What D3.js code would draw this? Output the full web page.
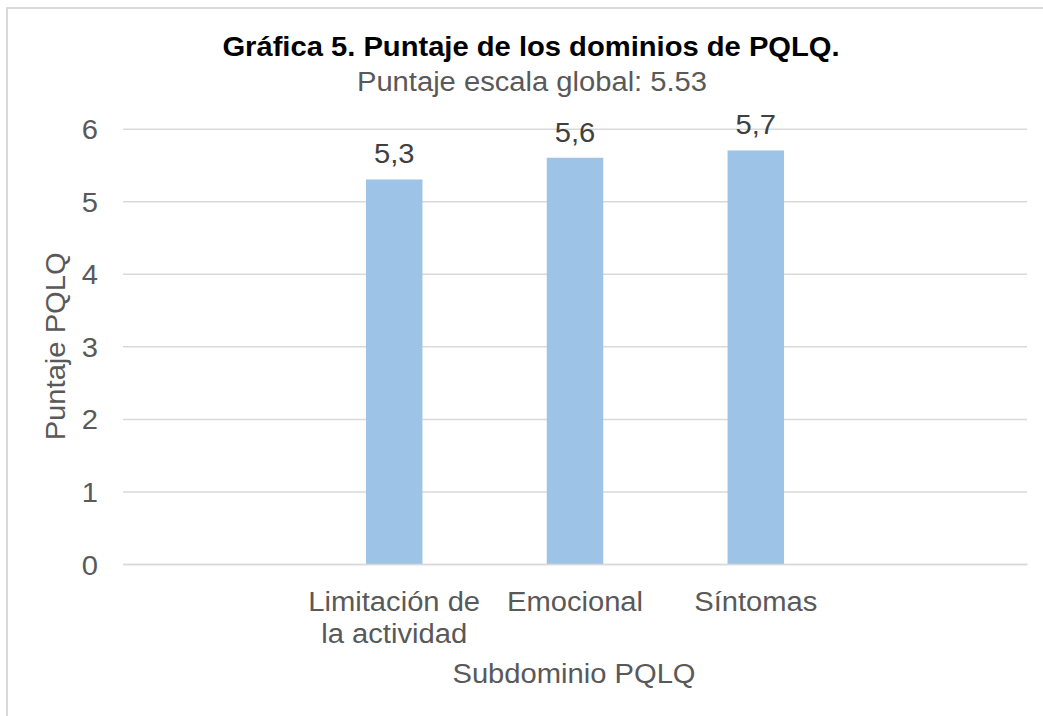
<!DOCTYPE html>
<html>
<head>
<meta charset="utf-8">
<script src="https://cdn.jsdelivr.net/npm/d3@7"></script>
<style>
    body { margin: 0; background: #fff; }
    svg text { font-family: Arial, "Liberation Sans", sans-serif; }
</style>
</head>
<body>
<svg id="chart" width="1043" height="716"></svg>
<script>
// chart values
const categories = ["", "Limitación de la actividad", "Emocional", "Síntomas", ""];
const categoryLines = [[], ["Limitación de", "la actividad"], ["Emocional"], ["Síntomas"], []];
const scores = [null, 5.3, 5.6, 5.7, null];
const yTicks = [0, 1, 2, 3, 4, 5, 6];
const title = "Gráfica 5. Puntaje de los dominios de PQLQ.";
const subtitle = "Puntaje escala global: 5.53";
const xTitle = "Subdominio PQLQ";
const yTitle = "Puntaje PQLQ";

let svg = d3.select("#chart");
let plot = {left: 123, right: 1027, top: 128.7, bottom: 564};
let fs = 27, sx = "scale(1.08,1)";

// outer frame (right/bottom edges run off the picture)
svg.append("rect").attr("x", 7).attr("y", 8).attr("width", 1100).attr("height", 800)
    .attr("fill", "none").attr("stroke", "#d9d9d9").attr("stroke-width", 2);

let x = d3.scaleBand().domain(d3.range(categories.length))
    .range([plot.left, plot.right]).paddingInner(0.6875).paddingOuter(0.34375);
let y = d3.scaleLinear().domain([0, 6]).range([plot.bottom, plot.top]);

let comma = d3.formatLocale({decimal: ",", thousands: ".", grouping: [3], currency: ["", ""]}).format(".1f");

// gridlines + y tick labels
let yAxis = svg.append("g").attr("transform", "translate(" + plot.left + ",0)")
    .call(d3.axisLeft(y).tickValues(yTicks).tickSize(-(plot.right - plot.left)).tickFormat(d3.format("d")));
yAxis.select(".domain").remove();
yAxis.selectAll(".tick line").attr("stroke", "#d9d9d9").attr("stroke-width", 1.5);
yAxis.selectAll(".tick text")
    .attr("x", null).attr("dy", null)
    .attr("transform", "translate(-25,10) " + sx)
    .attr("fill", "#595959").attr("font-size", fs).attr("text-anchor", "end");

// bars
let data = scores.map((v, i) => ({i: i, v: v})).filter(d => d.v !== null);
svg.append("g").selectAll("rect").data(data).enter().append("rect")
    .attr("x", d => x(d.i)).attr("width", x.bandwidth())
    .attr("y", d => y(d.v)).attr("height", d => y(0) - y(d.v))
    .attr("fill", "#9dc3e6");

// bar value labels
svg.append("g").selectAll("text").data(data).enter().append("text")
    .attr("transform", d => "translate(" + (x(d.i) + x.bandwidth() / 2) + "," + (y(d.v) - 16) + ") " + sx)
    .attr("text-anchor", "middle").attr("font-size", fs).attr("fill", "#404040")
    .text(d => comma(d.v));

// category axis
let xAxis = svg.append("g").attr("transform", "translate(0," + plot.bottom + ")")
    .call(d3.axisBottom(x).tickSize(0).tickFormat(""));
xAxis.select(".domain").attr("stroke", "#d9d9d9").attr("stroke-width", 1.5);
xAxis.selectAll(".tick").each(function (i) {
    let t = d3.select(this).select("text").text(null)
        .attr("y", null).attr("dy", null)
        .attr("transform", "translate(0,47) " + sx)
        .attr("font-size", fs).attr("fill", "#595959").attr("text-anchor", "middle");
    categoryLines[i].forEach((line, k) => {
        t.append("tspan").attr("x", 0).attr("y", k * 32.5).text(line);
    });
});

// titles
svg.append("text").attr("transform", "translate(531,56) " + sx)
    .attr("text-anchor", "middle").attr("font-size", fs).attr("font-weight", "bold")
    .attr("fill", "#000").text(title);
svg.append("text").attr("transform", "translate(532,91) " + sx)
    .attr("text-anchor", "middle").attr("font-size", fs).attr("fill", "#595959").text(subtitle);
svg.append("text").attr("transform", "translate(574,683) " + sx)
    .attr("text-anchor", "middle").attr("font-size", fs).attr("fill", "#595959").text(xTitle);
svg.append("text").attr("transform", "translate(65," + ((plot.top + plot.bottom) / 2) + ") rotate(-90) " + sx)
    .attr("text-anchor", "middle").attr("font-size", fs).attr("fill", "#595959").text(yTitle);
</script>
</body>
</html>
